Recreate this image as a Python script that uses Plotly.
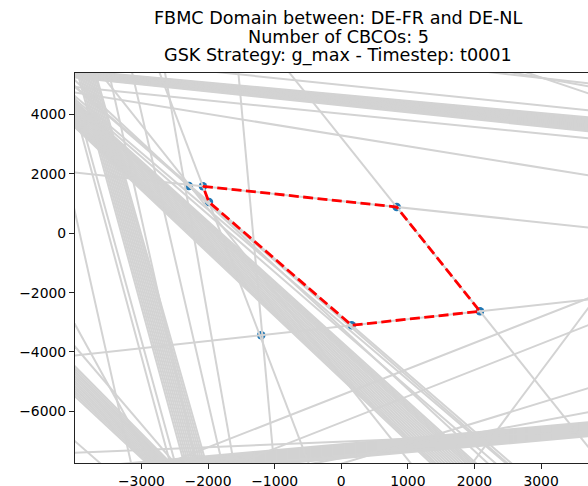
import plotly.graph_objects as go

# ---------------- data ----------------
title_lines = [
    "FBMC Domain between: DE-FR and DE-NL",
    "Number of CBCOs: 5",
    "GSK Strategy: g_max - Timestep: t0001",
]

# intersection points (vertices)
pts_x = [-2288, -2077, -1987, 832, 2083, 156, -1202]
pts_y = [1594, 1584, 1055, 886, -2629, -3100, -3437]

# feasible domain polygon (closed)
dom_x = [-2077, 832, 2083, 156, -1987, -2077]
dom_y = [1584, 886, -2629, -3100, 1055, 1584]

# constraint lines, each given by two points [x0, y0, x1, y1]
v_band = [
    [-3960, 5400, -2360, -7740], [-3935, 5400, -2330, -7740], [-3910, 5400, -2300, -7740],
    [-3885, 5400, -2270, -7740], [-3860, 5400, -2240, -7740], [-3835, 5400, -2210, -7740],
    [-3810, 5400, -2180, -7740], [-3785, 5400, -2150, -7740], [-3760, 5400, -2120, -7740],
    [-3735, 5400, -2090, -7740], [-3710, 5400, -2060, -7740], [-3690, 5400, -2030, -7740],
]
v_other = [
    [-3820, -1078, -3159, -7717], [-3369, -1078, -2573, -7717], [-3309, -1078, -2498, -7717],
    [-2843, -1078, -2183, -7717], [-3114, 5156, -2768, 1786], [-2137, -1078, -1642, -7380],
    [-1281, -1078, -1011, -7717], [-3594, 5325, -2363, 1854],
]
t_band = [
    [-4015, 5493, 3705, 3909], [-4015, 5476, 3705, 3875], [-4015, 5460, 3705, 3842],
    [-4015, 5443, 3705, 3808], [-4015, 5426, 3705, 3774], [-4015, 5409, 3705, 3740],
    [-4015, 5392, 3705, 3707], [-4015, 5375, 3705, 3673], [-4015, 5359, 3705, 3640],
    [-4015, 5342, 3705, 3606], [-4015, 5325, 3705, 3572], [-4015, 5308, 3705, 3538],
    [-4015, 5291, 3705, 3505], [-4015, 5274, 3705, 3471], [-4015, 5257, 3705, 3437],
]
t_other = [
    [-3820, 4887, 3705, 3201], [-4015, 4752, 3705, 1955], [-1732, 5402, 3705, 4145],
    [1978, 5493, 3705, 5055], [2384, 5493, 3705, 4954], [2684, 5493, 3705, 4718],
]
d_band = [
    [-4015, 4482, 2008, -7717], [-4015, 4431, 1970, -7717], [-4015, 4381, 1933, -7717],
    [-4015, 4330, 1895, -7717], [-4015, 4280, 1858, -7717], [-4015, 4212, 1813, -7717],
    [-4015, 4145, 1768, -7717], [-4015, 4077, 1723, -7717], [-4015, 4010, 1678, -7717],
    [-4015, 3943, 1633, -7717], [-4015, 3876, 1588, -7717], [-4015, 3825, 1542, -7717],
    [-4015, 3774, 1497, -7717], [-4015, 3723, 1452, -7717], [-4015, 3673, 1407, -7717],
    [-4015, 3640, 1370, -7717], [-4015, 3606, 1332, -7717],
]
d_other = [
    [-4015, 5190, -2288, 1594], [-3715, 4381, -2288, 1594],
    [-4015, 4651, 2456, -7717], [-4015, 4550, 2300, -7717],
]
l_band = [
    [-4015, -4448, -2573, -7717], [-4015, -4532, -2603, -7717], [-4015, -4617, -2633, -7717],
    [-4015, -4701, -2663, -7717], [-4015, -4785, -2693, -7717], [-4015, -4870, -2723, -7717],
    [-4015, -4954, -2753, -7717], [-4015, -5038, -2783, -7717], [-4015, -5122, -2813, -7717],
    [-4015, -5206, -2843, -7717], [-4015, -5291, -2873, -7717], [-4015, -5375, -2903, -7717],
    [-4015, -5459, -2933, -7717],
]
l_other = [
    [-4015, -2999, -2858, -7717], [-4015, -3774, -2513, -7717], [-4015, -6976, -3624, -7741],
]
b_band = [
    [-170, -7144, 3705, -6369], [-170, -7178, 3705, -6403], [-170, -7212, 3705, -6437],
    [-170, -7245, 3705, -6470], [-170, -7279, 3705, -6504], [-170, -7313, 3705, -6538],
    [-170, -7347, 3705, -6572], [-170, -7380, 3705, -6605], [-170, -7414, 3705, -6639],
    [-170, -7447, 3705, -6672], [-170, -7481, 3705, -6706], [-170, -7515, 3705, -6740],
    [-170, -7549, 3705, -6774], [-170, -7582, 3705, -6807], [-170, -7616, 3705, -6841],
]
b_other = [
    [-2017, -7212, 1633, -6875], [-170, -7650, 3705, -6033],
]
r_lines = [
    [-2573, -7717, 3705, -2191], [-1522, -7717, 3705, -3100],
    [71, -7717, 3705, -5224], [1978, -7717, 3705, -2528],
]
vertex_lines = [
    [-2077, 1584, 832, 886], [832, 886, 2083, -2629], [2083, -2629, 156, -3100],
    [156, -3100, -1987, 1055], [-1987, 1055, -2077, 1584],
]

x_ticks = [-3000, -2000, -1000, 0, 1000, 2000, 3000]
x_labels = ["\u22123000", "\u22122000", "\u22121000", "0", "1000", "2000", "3000"]
y_ticks = [-6000, -4000, -2000, 0, 2000, 4000]
y_labels = ["\u22126000", "\u22124000", "\u22122000", "0", "2000", "4000"]

# ---------------- figure ----------------
all_lines = (v_band + v_other + t_band + t_other + d_band + d_other + l_band + l_other
             + b_band + b_other + r_lines + vertex_lines)

gx, gy = [], []
for x0, y0, x1, y1 in all_lines:
    dx, dy = x1 - x0, y1 - y0
    gx += [x0 - 30 * dx, x1 + 30 * dx, None]
    gy += [y0 - 30 * dy, y1 + 30 * dy, None]

fig = go.Figure()
fig.add_trace(go.Scatter(x=pts_x, y=pts_y, mode="markers",
                         marker=dict(color="#1f77b4", size=8.5, line=dict(width=0)),
                         hoverinfo="skip"))
fig.add_trace(go.Scatter(x=gx, y=gy, mode="lines",
                         line=dict(color="#d3d3d3", width=2), hoverinfo="skip"))
fig.add_trace(go.Scatter(x=dom_x, y=dom_y, mode="lines",
                         line=dict(color="red", width=2.8, dash="10px,4.4px"), hoverinfo="skip"))

font = "DejaVu Sans, Verdana, sans-serif"
fig.update_layout(
    width=588, height=486,
    margin=dict(l=75, r=0, t=73, b=23),
    paper_bgcolor="white", plot_bgcolor="white",
    showlegend=False,
    font=dict(family=font, size=14, color="black"),
)
fig.update_xaxes(range=[-3998, 3705], tickvals=x_ticks, ticktext=x_labels,
                 showgrid=False, zeroline=False, showline=True, mirror=True,
                 linecolor="#222", linewidth=1.1, ticks="outside", ticklen=5,
                 tickwidth=1.1, tickcolor="#222", tickfont=dict(size=13.9), automargin=False)
fig.update_yaxes(range=[-7741, 5402], tickvals=y_ticks, ticktext=y_labels,
                 showgrid=False, zeroline=False, showline=True, mirror=False,
                 linecolor="#222", linewidth=1.1, ticks="outside", ticklen=5,
                 tickwidth=1.1, tickcolor="#222", tickfont=dict(size=13.9), automargin=False)

for i, (txt, shift) in enumerate(zip(title_lines, [55, 36.5, 18])):
    fig.add_annotation(text=txt, xref="paper", yref="paper", x=(338 - 75) / 513, y=1,
                       xanchor="center", yanchor="middle", yshift=shift, showarrow=False,
                       font=dict(size=17.6, family=font, color="black"))

fig.write_html("out.html", config={"displayModeBar": False},
               post_script="document.body.style.margin='0';document.body.style.overflow='hidden';")
